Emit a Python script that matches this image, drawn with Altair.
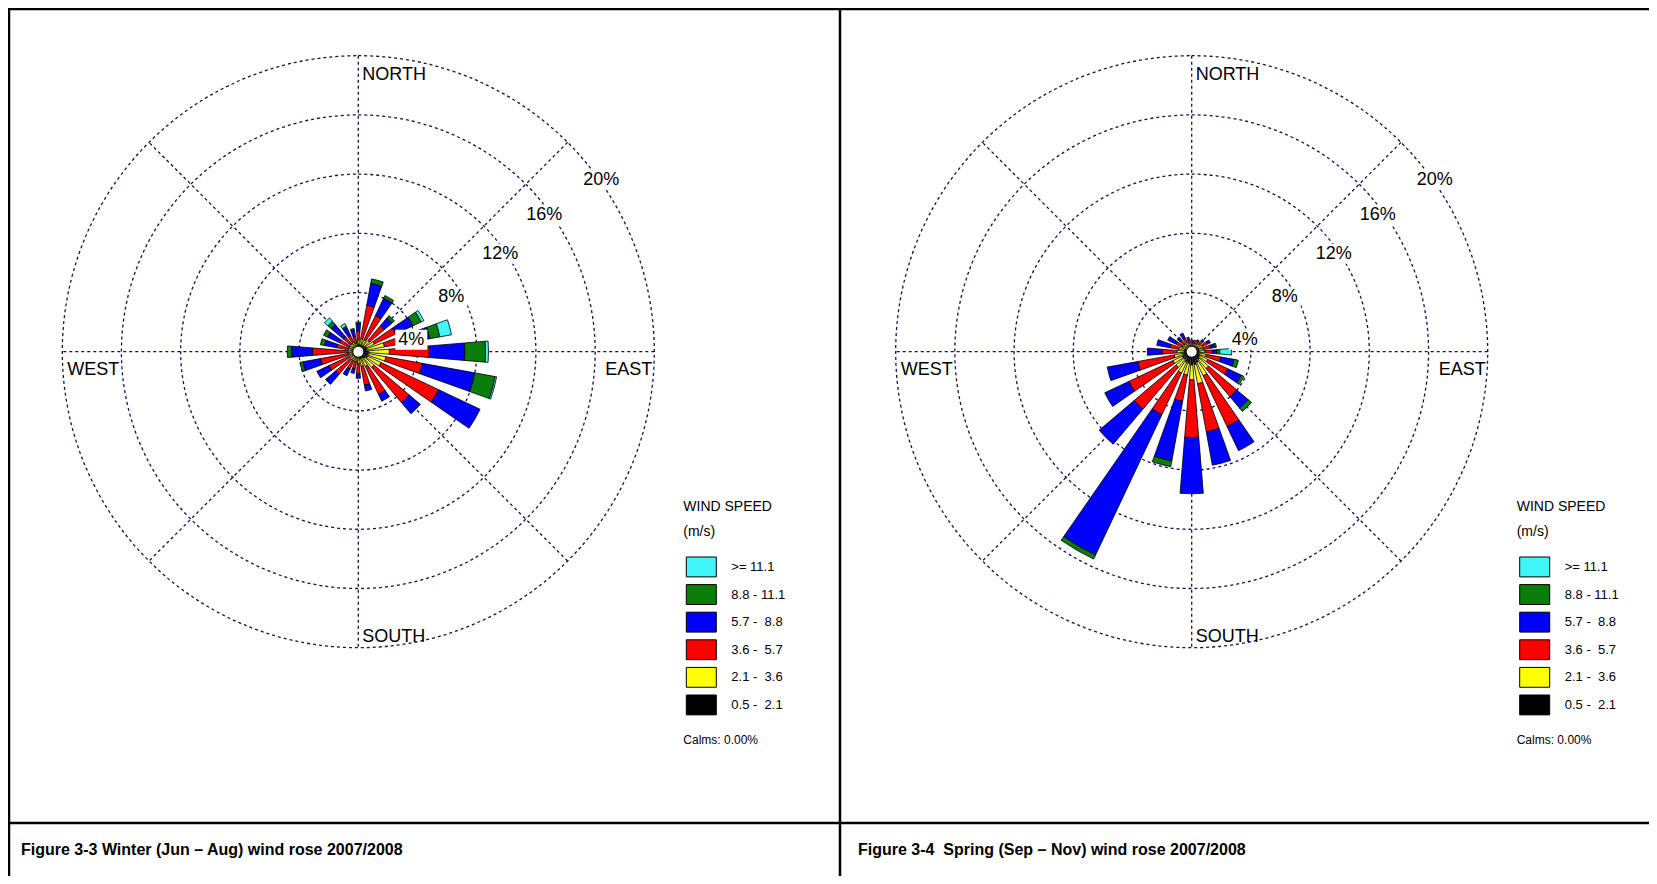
import math
import altair as alt
import pandas as pd

# ---------------- data ----------------
directions = list(range(0, 360, 15))  # 24 direction bins (deg)

speed_labels = ["0.5 - \u00a02.1", "2.1 - \u00a03.6", "3.6 - \u00a05.7",
                "5.7 - \u00a08.8", "8.8 - 11.1", ">= 11.1"]
speed_colors = ["#000000", "#ffff00", "#ff0000", "#0000ff", "#0b7d0b", "#3ff5f5"]

ring_values = [4, 8, 12, 16, 20]
compass_labels = ["NORTH", "EAST", "SOUTH", "WEST"]

# frequencies (%) per speed class, per direction (0,15,...,345)
winter_05_21 = [.5, .5, .5, .5, .6, .6, .7, .7, .7, .6, .5, .5, .4, .4, .4, .4, .4, .4, .4, .4, .4, .4, .4, .4]
winter_21_36 = [.3, .4, .4, .5, .6, 1.2, 1.4, 1.2, 1.0, .8, .6, .5, .4, .3, .3, .3, .3, .3, .3, .3, .3, .3, .3, .2]
winter_36_57 = [.6, 2.3, 1.8, 1.3, 1.6, 1.4, 2.7, 2.5, 4.3, 3.1, 2.1, 1.3, .7, .5, .6, 1.3, 1.5, 1.9, 2.4, .8, .7, .6, .5, .4]
winter_57_88 = [.5, 1.5, 1.3, .7, 1.3, 1.7, 2.4, 3.6, 3.1, 1.0, .5, .4, .3, .3, .5, .9, .9, 1.2, 1.4, .8, .9, 1.1, .6, .5]
winter_88_111 = [.1, .3, .2, .2, .6, .7, 1.4, 1.4, 0, 0, 0, 0, 0, 0, 0, 0, 0, .2, .3, .3, .3, .3, .1, .1]
winter_111 = [0, 0, 0, 0, .2, .8, .2, .1, 0, 0, 0, 0, 0, 0, 0, 0, 0, 0, 0, 0, 0, .3, .2, 0]

spring_05_21 = [.4, .4, .4, .4, .5, .5, .5, .5, .6, .7, .8, .9, .9, .8, .8, .7, .7, .6, .5, .5, .4, .4, .4, .4]
spring_21_36 = [.2, .2, .2, .3, .3, .3, .4, .5, .6, .8, 1.0, 1.3, 1.0, .8, .8, .7, .7, .6, .5, .4, .3, .3, .3, .2]
spring_36_57 = [.2, .2, .2, .3, .4, .5, .5, 1.0, 1.5, 2.5, 3.8, 3.3, 3.9, 1.8, 3.1, 3.7, 3.3, 2.5, 1.0, .6, .5, .3, .3, .2]
spring_57_88 = [0, 0, .1, .1, .2, .3, .3, .9, 1.0, 1.0, 1.8, 2.3, 3.8, 4.1, 10.5, 3.1, 1.8, 2.1, 1.0, .9, .6, .3, .4, .2]
spring_88_111 = [0, 0, 0, 0, 0, .1, .2, .3, .2, .3, 0, 0, 0, .4, .3, 0, 0, 0, 0, 0, 0, 0, 0, 0]
spring_111 = [0, 0, 0, 0, 0, 0, .8, 0, 0, 0, 0, 0, 0, 0, 0, 0, 0, 0, 0, 0, 0, 0, 0, 0]

seasons = {
    "winter": [winter_05_21, winter_21_36, winter_36_57, winter_57_88, winter_88_111, winter_111],
    "spring": [spring_05_21, spring_21_36, spring_36_57, spring_57_88, spring_88_111, spring_111],
}

captions = {
    "winter": "Figure 3-3 Winter (Jun \u2013 Aug) wind rose 2007/2008",
    "spring": "Figure 3-4 \u00a0Spring (Sep \u2013 Nov) wind rose 2007/2008",
}
calms_text = "Calms: 0.00%"

rows = []
for season, arrays in seasons.items():
    for i, d in enumerate(directions):
        cum = 0.0
        for k, arr in enumerate(arrays):
            v = arr[i]
            if v > 0:
                rows.append({"season": season, "dir": d, "cls": speed_labels[k],
                             "r0": cum, "r1": cum + v})
                cum += v
bars_df = pd.DataFrame(rows)

# ---------------- layout ----------------
W, H = 1641, 868
R = 296.0
CY = 343.7
CENTERS = {"winter": 350.3, "spring": 1183.7}
GRID = "#12124e"
FONT = "Liberation Sans"
HALF_W = 4.7

theta_scale = alt.Scale(domain=[0, 360], range=[0, 2 * math.pi])
radius_scale = alt.Scale(type="linear", domain=[0, max(ring_values)], range=[0, R], zero=True)
color_scale = alt.Scale(domain=speed_labels, range=speed_colors)

layers = []


def text_layer(txt, x, y, size=18, align="left", weight="normal", font=FONT):
    return alt.Chart(pd.DataFrame({"t": [txt]})).mark_text(
        align=align, baseline="middle", fontSize=size, font=font,
        fontWeight=weight, color="black"
    ).encode(text="t:N", x=alt.value(x), y=alt.value(y))


def box_layer(x1, x2, y1, y2, fill="white"):
    return alt.Chart(pd.DataFrame({"a": [0]})).mark_rect(fill=fill).encode(
        x=alt.value(x1), x2=alt.value(x2), y=alt.value(y1), y2=alt.value(y2))


ring_label_off = {4: (53, -12), 8: (93, -55), 12: (142, -98), 16: (186, -137), 20: (243, -172)}

for season, cx in CENTERS.items():
    rmax = max(ring_values)
    # rings
    layers.append(
        alt.Chart(pd.DataFrame({"ring": ring_values})).mark_arc(
            filled=False, stroke=GRID, strokeWidth=1.3, strokeDash=[3, 3],
            theta=0, theta2=2 * math.pi
        ).encode(radius=alt.Radius("ring:Q", scale=radius_scale, stack=None),
                 x=alt.value(cx), y=alt.value(CY))
    )
    # spokes
    layers.append(
        alt.Chart(pd.DataFrame({"angle": [0, 45, 90, 135]})).transform_calculate(
            sx=f"{rmax}*sin(datum.angle*PI/180)",
            sy=f"{rmax}*cos(datum.angle*PI/180)",
            ex=f"-{rmax}*sin(datum.angle*PI/180)",
            ey=f"-{rmax}*cos(datum.angle*PI/180)",
        ).mark_rule(stroke=GRID, strokeWidth=1.3, strokeDash=[3, 3]).encode(
            x=alt.X("sx:Q", scale=alt.Scale(domain=[-rmax, rmax], range=[cx - R, cx + R]), axis=None),
            x2="ex:Q",
            y=alt.Y("sy:Q", scale=alt.Scale(domain=[-rmax, rmax], range=[CY + R, CY - R]), axis=None),
            y2="ey:Q",
        )
    )
    # bars
    layers.append(
        alt.Chart(bars_df[bars_df["season"] == season]).transform_calculate(
            t0=f"datum.dir - {HALF_W}", t1=f"datum.dir + {HALF_W}"
        ).mark_arc(stroke="black", strokeWidth=0.8).encode(
            theta=alt.Theta("t0:Q", stack=None, scale=theta_scale),
            theta2="t1:Q",
            radius=alt.Radius("r1:Q", scale=radius_scale, stack=None),
            radius2="r0:Q",
            color=alt.Color("cls:N", scale=color_scale, legend=None),
            x=alt.value(cx), y=alt.value(CY),
        )
    )
    # calm disc
    layers.append(
        alt.Chart(pd.DataFrame({"a": [0]})).mark_arc(
            fill="white", theta=0, theta2=2 * math.pi, radius=5
        ).encode(x=alt.value(cx), y=alt.value(CY))
    )
    # ring labels with white boxes
    for v in ring_values:
        dx, dy = ring_label_off[v]
        lab = f"{v}%"
        half = 6 + 5 * len(lab)
        layers.append(box_layer(cx + dx - half, cx + dx + half, CY + dy - 10, CY + dy + 10))
        layers.append(text_layer(lab, cx + dx, CY + dy, size=18, align="center"))
    # compass labels
    layers.append(text_layer(compass_labels[0], cx + 4, CY - R + 19))
    layers.append(text_layer(compass_labels[2], cx + 4, CY + R - 11))
    layers.append(text_layer(compass_labels[3], cx - R + 5, CY + 18))
    layers.append(text_layer(compass_labels[1], cx + R - 2, CY + 18, align="right"))

    # legend
    lx = cx + 328
    leg_df = pd.DataFrame({"cls": speed_labels[::-1], "row": list(range(len(speed_labels)))})
    ly_scale = alt.Scale(domain=[0, 6], range=[549, 549 + 6 * 27.6])
    layers.append(
        alt.Chart(leg_df).transform_calculate(row_end="datum.row + 0.72").mark_rect(
            stroke="black", strokeWidth=1
        ).encode(
            y=alt.Y("row:Q", scale=ly_scale, axis=None), y2="row_end:Q",
            x=alt.value(lx), x2=alt.value(lx + 30),
            color=alt.Color("cls:N", scale=color_scale, legend=None),
        )
    )
    layers.append(
        alt.Chart(leg_df).transform_calculate(row_mid="datum.row + 0.36").mark_text(
            align="left", baseline="middle", fontSize=13, font=FONT, color="black"
        ).encode(
            y=alt.Y("row_mid:Q", scale=ly_scale, axis=None),
            x=alt.value(lx + 45), text="cls:N",
        )
    )
    layers.append(text_layer("WIND SPEED", lx - 3, 499, size=14))
    layers.append(text_layer("(m/s)", lx - 3, 524, size=14))
    layers.append(text_layer(calms_text, lx - 3, 732, size=12))

# captions
layers.append(text_layer(captions["winter"], 13, 842, size=16, weight="bold"))
layers.append(text_layer(captions["spring"], 850, 842, size=16, weight="bold"))

# table lines
def hline(y):
    return alt.Chart(pd.DataFrame({"a": [0]})).mark_rule(color="black", strokeWidth=2.5).encode(
        x=alt.value(0), x2=alt.value(W), y=alt.value(y))


def vline(x):
    return alt.Chart(pd.DataFrame({"a": [0]})).mark_rule(color="black", strokeWidth=2.5).encode(
        y=alt.value(0), y2=alt.value(H), x=alt.value(x))


layers += [hline(1), vline(1), vline(832), hline(815)]

chart = alt.layer(*layers).resolve_scale(x="independent", y="independent").properties(
    width=W, height=H, padding=0, autosize="none", background="white"
).configure_view(stroke=None)

chart.save("out.html", embed_options={"renderer": "svg", "actions": False})
